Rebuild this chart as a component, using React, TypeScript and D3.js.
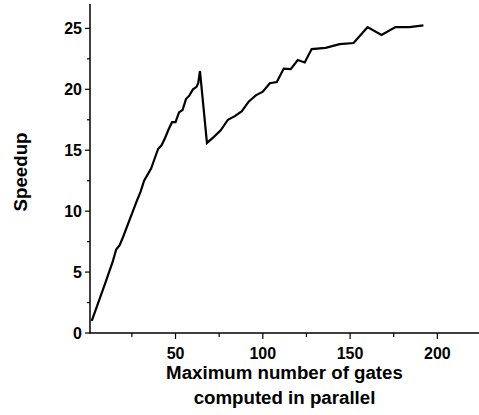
import React from "react";
import * as d3 from "d3";

const gates: number[] = [2, 6, 10, 14, 16, 18, 20, 24, 28, 30, 32, 34, 36, 38, 40, 42, 44, 46, 48, 50, 52, 54, 56, 58, 60, 61, 62, 63, 64, 68, 72, 76, 80, 84, 88, 92, 96, 100, 104, 108, 112, 116, 120, 124, 128, 136, 144, 152, 160, 168, 176, 184, 192];
const speedup: number[] = [1.0, 2.6, 4.2, 5.85, 6.85, 7.2, 7.9, 9.4, 10.9, 11.6, 12.5, 13.0, 13.5, 14.3, 15.1, 15.4, 16.0, 16.7, 17.3, 17.3, 18.1, 18.3, 19.2, 19.5, 20.0, 20.1, 20.2, 20.5, 21.5, 15.6, 16.1, 16.65, 17.5, 17.8, 18.2, 19.0, 19.5, 19.8, 20.5, 20.6, 21.7, 21.65, 22.4, 22.2, 23.3, 23.4, 23.7, 23.8, 25.1, 24.45, 25.1, 25.1, 25.25];

const xMajorTicks: number[] = [50, 100, 150, 200];
const xMinorTicks: number[] = [25, 75, 125, 175];
const yMajorTicks: number[] = [0, 5, 10, 15, 20, 25];
const yMinorTicks: number[] = [2.5, 7.5, 12.5, 17.5, 22.5];

const xTitle1 = "Maximum number of gates";
const xTitle2 = "computed in parallel";
const yTitle = "Speedup";

const W = 479;
const H = 415;
const left = 90;
const right = 481;
const top = 4;
const bottom = 333;

export default function App() {
  const x = d3.scaleLinear().domain([1, 225]).range([left, right]);
  const y = d3.scaleLinear().domain([0, 27]).range([bottom, top]);
  const pts: [number, number][] = gates.map((g, i) => [g, speedup[i]]);
  const line = d3
    .line<[number, number]>()
    .x((d) => x(d[0]))
    .y((d) => y(d[1]));
  const font = "'Liberation Sans', Arial, Helvetica, sans-serif";
  return (
    <svg
      width={W}
      height={H}
      style={{ position: "absolute", left: 0, top: 0, display: "block", background: "#fff" }}
      fontFamily={font}
      fontWeight="bold"
    >
      <rect x={0} y={0} width={W} height={H} fill="#fff" />
      {/* axes */}
      <line x1={left} x2={left} y1={top} y2={bottom} stroke="#000" strokeWidth={1.5} />
      <line x1={left - 0.75} x2={W} y1={bottom} y2={bottom} stroke="#000" strokeWidth={1.5} />
      {yMajorTicks.map((t) => (
        <g key={"ym" + t}>
          <line x1={left - 5} x2={left} y1={y(t)} y2={y(t)} stroke="#000" strokeWidth={1.2} />
          <text x={82} y={y(t)} dy="0.36em" textAnchor="end" fontSize={16} fill="#000">
            {t}
          </text>
        </g>
      ))}
      {yMinorTicks.map((t) => (
        <line key={"yn" + t} x1={left - 3} x2={left} y1={y(t)} y2={y(t)} stroke="#000" strokeWidth={1.2} />
      ))}
      {xMajorTicks.map((t) => (
        <g key={"xm" + t}>
          <line x1={x(t)} x2={x(t)} y1={bottom} y2={bottom + 6} stroke="#000" strokeWidth={1.2} />
          <text x={x(t)} y={358.5} textAnchor="middle" fontSize={16} fill="#000">
            {t}
          </text>
        </g>
      ))}
      {xMinorTicks.map((t) => (
        <line key={"xn" + t} x1={x(t)} x2={x(t)} y1={bottom} y2={bottom + 4} stroke="#000" strokeWidth={1.2} />
      ))}
      {/* data line */}
      <path d={line(pts) || ""} fill="none" stroke="#000" strokeWidth={2.2} strokeLinejoin="miter" />
      {/* titles */}
      <text x={284.5} y={379} textAnchor="middle" fontSize={18.7} fill="#000">
        {xTitle1}
      </text>
      <text x={284.5} y={404} textAnchor="middle" fontSize={18.7} fill="#000">
        {xTitle2}
      </text>
      <text
        transform="translate(26.5,172) rotate(-90)"
        textAnchor="middle"
        fontSize={18.7}
        fill="#000"
      >
        {yTitle}
      </text>
    </svg>
  );
}
